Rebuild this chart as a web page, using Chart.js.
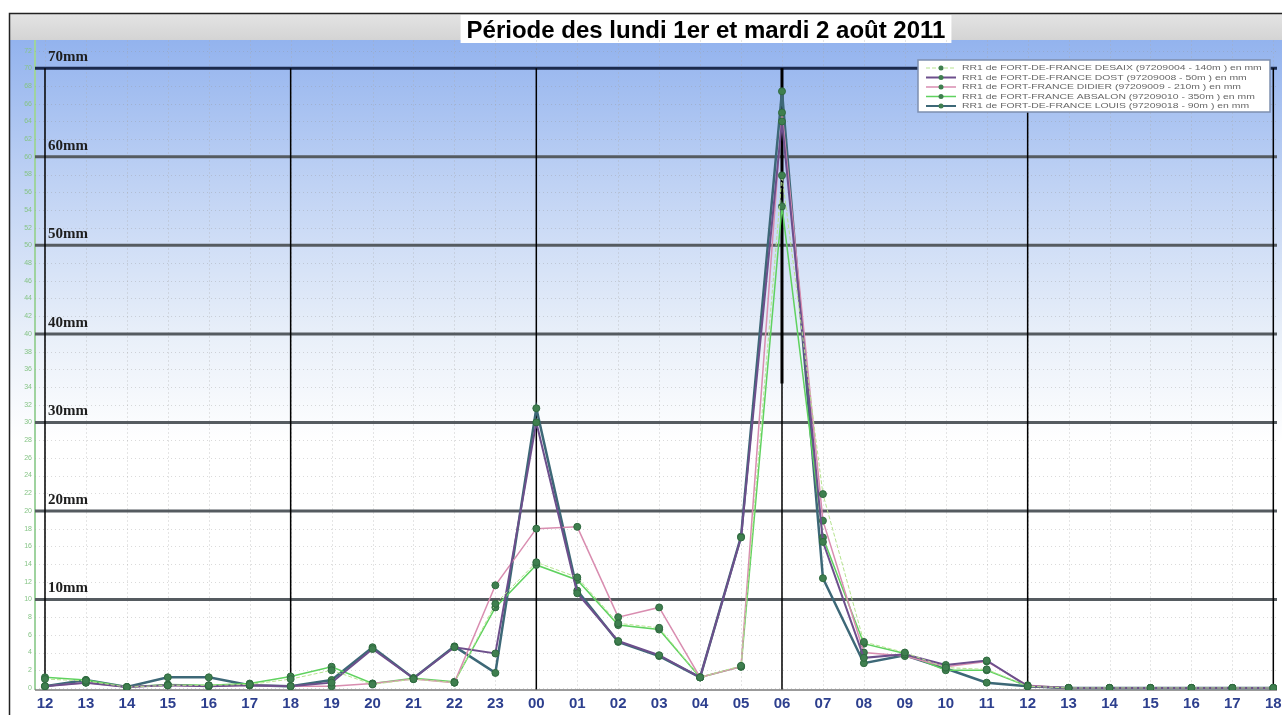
<!DOCTYPE html>
<html>
<head>
<meta charset="utf-8">
<script src="https://cdn.jsdelivr.net/npm/chart.js@4/dist/chart.umd.min.js"></script>
<style>
	body { margin: 0; background: #fff; }
	canvas { display: block; }
</style>
</head>
<body>
<canvas id="pluie" width="1282" height="715"></canvas>
<script>
// heures du lundi 12h au mardi 18h
var hourLabels = ["12", "13", "14", "15", "16", "17", "18", "19", "20", "21", "22", "23",
	"00", "01", "02", "03", "04", "05", "06", "07", "08", "09", "10", "11",
	"12", "13", "14", "15", "16", "17", "18"];

var seriesNames = [
	"RR1 de FORT-DE-FRANCE DESAIX (97209004 - 140m ) en mm",
	"RR1 de FORT-DE-FRANCE DOST (97209008 - 50m ) en mm",
	"RR1 de FORT-FRANCE DIDIER (97209009 - 210m ) en mm",
	"RR1 de FORT-FRANCE ABSALON (97209010 - 350m ) en mm",
	"RR1 de FORT-DE-FRANCE LOUIS (97209018 - 90m ) en mm"
];

var desaix = [1.0, 0.8, 0.1, 0.3, 0.3, 0.4, 1.0, 2.0, 0.4, 1.0, 0.6, 9.5, 14.2, 12.5, 7.3, 6.8,
	1.2, 2.5, 57.9, 21.9, 5.2, 4.0, 2.3, 2.1, 0.2, 0, 0, 0, 0, 0, 0];
var dost = [0.2, 0.6, 0.1, 0.3, 0.2, 0.3, 0.2, 0.6, 4.4, 1.1, 4.6, 3.9, 30.0, 10.7, 5.3, 3.7,
	1.2, 17.0, 64.0, 16.5, 3.4, 3.8, 2.6, 3.1, 0.2, 0, 0, 0, 0, 0, 0];
var didier = [0.2, 0.6, 0.1, 0.3, 0.2, 0.3, 0.2, 0.2, 0.5, 1.0, 0.6, 11.6, 18.0, 18.2, 8.0, 9.1,
	1.2, 2.4, 65.0, 18.9, 4.0, 3.6, 2.4, 3.0, 0.3, 0, 0, 0, 0, 0, 0];
var absalon = [1.2, 0.9, 0.1, 0.4, 0.3, 0.5, 1.3, 2.4, 0.5, 1.1, 0.7, 9.1, 13.9, 12.2, 7.1, 6.6,
	1.2, 2.4, 54.4, 17.0, 5.0, 3.9, 2.0, 2.0, 0.2, 0, 0, 0, 0, 0, 0];
var louis = [0.2, 0.9, 0.1, 1.2, 1.2, 0.3, 0.2, 0.9, 4.6, 1.1, 4.7, 1.7, 31.6, 11.0, 5.2, 3.6,
	1.2, 17.1, 67.4, 12.4, 2.8, 3.7, 2.2, 0.6, 0.2, 0, 0, 0, 0, 0, 0];

var mmLines = [10, 20, 30, 40, 50, 60, 70];
var yTicks = [];
for (var t = 0; t <= 72; t += 2) yTicks.push(t);

var title = "Période des lundi 1er et mardi 2 août 2011";

function toPoints(values) {
	return values.map(function (v, i) { return { x: i, y: v }; });
}

function makeSet(label, values, color, width, dash) {
	return {
		label: label,
		data: toPoints(values),
		borderColor: color,
		borderWidth: width,
		borderDash: dash || [],
		pointRadius: 3.5,
		pointBackgroundColor: "#3f7f4f",
		pointBorderColor: "#2f6a3f",
		pointBorderWidth: 1,
		tension: 0
	};
}

var decor = {
	id: "decor",
	beforeDraw: function (chart) {
		var ctx = chart.ctx;
		var area = chart.chartArea;
		ctx.save();
		ctx.fillStyle = "#fff";
		ctx.fillRect(0, 0, chart.width, chart.height);

		// fond bleu degradé
		var g = ctx.createLinearGradient(0, area.top, 0, area.bottom);
		g.addColorStop(0, "#93b3ee");
		g.addColorStop(0.22, "#bfd2f4");
		g.addColorStop(0.45, "#e8eff9");
		g.addColorStop(0.62, "#ffffff");
		g.addColorStop(1, "#ffffff");
		ctx.fillStyle = g;
		ctx.fillRect(9, area.top, chart.width - 9, area.bottom - area.top);

		// bande grise du haut
		var g2 = ctx.createLinearGradient(0, 13, 0, area.top);
		g2.addColorStop(0, "#e4e4e4");
		g2.addColorStop(1, "#d4d4d4");
		ctx.fillStyle = g2;
		ctx.fillRect(9, 13, chart.width - 9, area.top - 13);

		// cadre
		ctx.strokeStyle = "#222";
		ctx.lineWidth = 1.5;
		ctx.strokeRect(9.5, 13.5, chart.width, chart.height);

		// axe vert gauche
		ctx.strokeStyle = "#9fd39f";
		ctx.lineWidth = 2;
		ctx.beginPath();
		ctx.moveTo(area.left, area.top);
		ctx.lineTo(area.left, area.bottom);
		ctx.stroke();

		// titre
		ctx.font = "bold 24px 'Liberation Sans', Arial, sans-serif";
		var w = ctx.measureText(title).width;
		var cx = 706;
		ctx.fillStyle = "#fff";
		ctx.fillRect(cx - w / 2 - 6, 15, w + 12, 28);
		ctx.fillStyle = "#000";
		ctx.textAlign = "center";
		ctx.textBaseline = "alphabetic";
		ctx.fillText(title, cx, 38);
		ctx.restore();
	},
	beforeDatasetsDraw: function (chart) {
		var ctx = chart.ctx;
		var area = chart.chartArea;
		var xs = chart.scales.x;
		var ys = chart.scales.y;
		ctx.save();

		// grille pointillée
		ctx.lineWidth = 1;
		ctx.strokeStyle = "rgba(150,150,150,0.35)";
		ctx.setLineDash([1, 3]);
		yTicks.forEach(function (v) {
			var y = Math.round(ys.getPixelForValue(v)) + 0.5;
			ctx.beginPath();
			ctx.moveTo(area.left, y);
			ctx.lineTo(area.right, y);
			ctx.stroke();
		});
		ctx.strokeStyle = "rgba(170,170,170,0.3)";
		ctx.setLineDash([2, 2]);
		hourLabels.forEach(function (h, i) {
			var x = Math.round(xs.getPixelForValue(i)) + 0.5;
			ctx.beginPath();
			ctx.moveTo(x, area.top);
			ctx.lineTo(x, area.bottom);
			ctx.stroke();
		});
		ctx.setLineDash([]);

		// lignes des 10 mm
		mmLines.forEach(function (v) {
			var y = ys.getPixelForValue(v);
			ctx.strokeStyle = v === 70 ? "#1b2a4c" : "#555b60";
			ctx.lineWidth = 3;
			ctx.beginPath();
			ctx.moveTo(area.left, y);
			ctx.lineTo(area.right, y);
			ctx.stroke();
			ctx.font = "bold 15px 'Liberation Serif', 'Times New Roman', serif";
			ctx.fillStyle = "#1e1e1e";
			ctx.textAlign = "left";
			ctx.fillText(v + "mm", area.left + 13, y - 7);
		});

		// verticales toutes les 6 heures
		ctx.strokeStyle = "#000";
		ctx.lineWidth = 1.5;
		var top = ys.getPixelForValue(70);
		for (var i = 0; i < hourLabels.length; i += 6) {
			var x = xs.getPixelForValue(i);
			ctx.beginPath();
			ctx.moveTo(x, top);
			ctx.lineTo(x, area.bottom);
			ctx.stroke();
		}
		// trait renforcé à 06h
		var x6 = xs.getPixelForValue(18);
		ctx.lineWidth = 3;
		ctx.beginPath();
		ctx.moveTo(x6, top);
		ctx.lineTo(x6, ys.getPixelForValue(34.4));
		ctx.stroke();

		// axe du bas
		ctx.strokeStyle = "#7a7a7a";
		ctx.lineWidth = 1.5;
		ctx.beginPath();
		ctx.moveTo(area.left, area.bottom);
		ctx.lineTo(area.right, area.bottom);
		ctx.stroke();
		ctx.restore();
	},
	afterDatasetsDraw: function (chart) {
		var ctx = chart.ctx;
		var bx = 918, by = 60, bw = 352, bh = 52;
		ctx.save();
		ctx.fillStyle = "#fff";
		ctx.fillRect(bx, by, bw, bh);
		ctx.strokeStyle = "#7d8fae";
		ctx.lineWidth = 1.5;
		ctx.strokeRect(bx, by, bw, bh);
		chart.data.datasets.forEach(function (ds, i) {
			var y = by + 8 + i * 9.5;
			ctx.strokeStyle = ds.borderColor;
			ctx.lineWidth = Math.min(ds.borderWidth, 2);
			ctx.setLineDash(ds.borderDash);
			ctx.beginPath();
			ctx.moveTo(bx + 8, y);
			ctx.lineTo(bx + 38, y);
			ctx.stroke();
			ctx.setLineDash([]);
			ctx.fillStyle = ds.pointBackgroundColor;
			ctx.beginPath();
			ctx.arc(bx + 23, y, 2.5, 0, Math.PI * 2);
			ctx.fill();
			ctx.save();
			ctx.translate(bx + 44, y);
			ctx.scale(1.3, 1);
			ctx.font = "8px 'Liberation Sans', Arial, sans-serif";
			ctx.fillStyle = "#666";
			ctx.textAlign = "left";
			ctx.textBaseline = "middle";
			ctx.fillText(ds.label, 0, 0);
			ctx.restore();
		});
		ctx.restore();
	}
};

var chart = new Chart(document.getElementById("pluie"), {
	type: "line",
	data: {
		datasets: [
			makeSet(seriesNames[0], desaix, "#b5e38f", 1, [4, 2]),
			makeSet(seriesNames[1], dost, "#6d4f8c", 2),
			makeSet(seriesNames[2], didier, "#d98db0", 1.5),
			makeSet(seriesNames[3], absalon, "#5fd25f", 1.5),
			makeSet(seriesNames[4], louis, "#3d6877", 2.5)
		]
	},
	options: {
		responsive: false,
		animation: false,
		layout: { padding: { top: 40, right: 2, left: 0, bottom: 0 } },
		plugins: {
			legend: { display: false },
			tooltip: { enabled: false }
		},
		scales: {
			x: {
				type: "linear",
				min: -0.244,
				max: 30.09,
				grid: { display: false, drawTicks: false },
				border: { display: false },
				afterBuildTicks: function (scale) {
					scale.ticks = hourLabels.map(function (h, i) { return { value: i }; });
				},
				afterFit: function (scale) {
					scale.height = 25;
					scale.paddingLeft = 0;
					scale.paddingRight = 0;
				},
				ticks: {
					autoSkip: false,
					maxRotation: 0,
					padding: 5,
					color: "#2d3f8e",
					font: { family: "'Liberation Sans', Arial, sans-serif", size: 15, weight: "bold" },
					callback: function (v) { return hourLabels[v]; }
				}
			},
			y: {
				min: -0.23,
				max: 73.2,
				grid: { display: false, drawTicks: false },
				border: { display: false },
				afterBuildTicks: function (scale) {
					scale.ticks = yTicks.map(function (v) { return { value: v }; });
				},
				afterFit: function (scale) {
					scale.width = 35;
					scale.paddingTop = 0;
					scale.paddingBottom = 0;
				},
				ticks: {
					autoSkip: false,
					padding: 3,
					color: "#86c486",
					font: { family: "'Liberation Sans', Arial, sans-serif", size: 7 }
				}
			}
		}
	},
	plugins: [decor]
});
</script>
</body>
</html>
